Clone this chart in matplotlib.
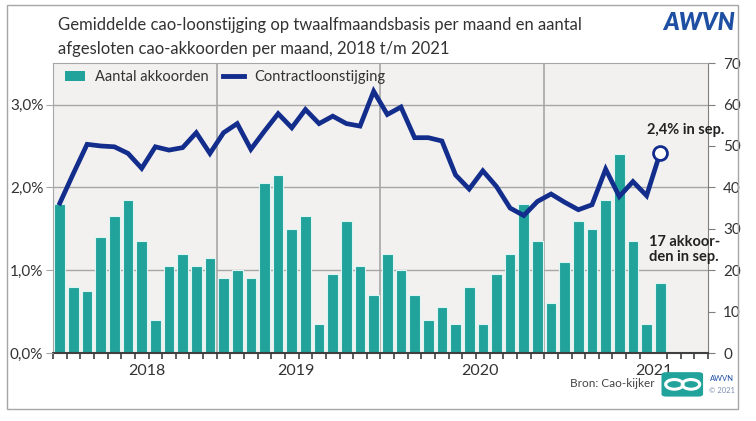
import matplotlib.pyplot as plt
import numpy as np
from matplotlib.lines import Line2D
from matplotlib.patches import Patch, Rectangle, FancyBboxPatch, Circle

#--------------- data -----------------------#
# months jan 2018 .. dec 2021 (48 slots), data up to sep 2021
akkoorden = [36, 16, 15, 28, 33, 37, 27, 8, 21, 24, 21, 23,
             18, 20, 18, 41, 43, 30, 33, 7, 19, 32, 21, 14,
             24, 20, 14, 8, 11, 7, 16, 7, 19, 24, 36, 27,
             12, 22, 32, 30, 37, 48, 27, 7, 17]
loonstijging = [1.81, 2.17, 2.52, 2.50, 2.49, 2.41, 2.23, 2.49, 2.45, 2.48, 2.66, 2.41,
                2.66, 2.77, 2.46, 2.68, 2.89, 2.72, 2.94, 2.77, 2.86, 2.77, 2.74, 3.16,
                2.88, 2.97, 2.60, 2.60, 2.56, 2.15, 1.98, 2.20, 2.01, 1.75, 1.66, 1.83,
                1.92, 1.82, 1.73, 1.79, 2.22, 1.89, 2.07, 1.90, 2.42]
n_slots = 48
jaren = ['2018', '2019', '2020', '2021']
jaar_pos = [6.4, 17.3, 30.8, 43.5]
jaar_grens = [11.5, 23.5, 35.5]

teal = '#21A29B'
navy = '#132D8C'
grijs = '#A6A6A6'
plt.rcParams['font.family'] = ['Lato', 'DejaVu Sans']

#--------------- plot -----------------#
fig = plt.figure(figsize=(7.56, 4.21), dpi=100)
ax = fig.add_axes([0.0701, 0.1615, 0.8664, 0.6885])
ax2 = ax.twinx()
ax.set_facecolor('#F2F1EF')

x = np.arange(len(akkoorden))
ax.bar(x, akkoorden, width=0.78, color=teal, edgecolor='#DDF6F4', linewidth=0.8, zorder=2)
for v in (20, 40, 60):
    ax.axhline(v, color=grijs, lw=1, zorder=1)
for g in jaar_grens:
    ax.axvline(g, color=grijs, lw=1.2, zorder=1)

ax.set_xlim(-0.5, n_slots - 0.5)
ax.set_ylim(0, 70)
ax.yaxis.tick_right()
ax.set_yticks(range(0, 71, 10))
ax.tick_params(axis='y', direction='out', length=5, color='#7F7F7F', labelsize=11, labelcolor='#333333', pad=6)
ax.set_xticks(jaar_pos)
ax.set_xticklabels(jaren, fontsize=11.5, color='#333333')
ax.set_xticks(np.arange(-0.5, n_slots, 1), minor=True)
ax.tick_params(axis='x', which='major', length=0, pad=8)
ax.tick_params(axis='x', which='minor', direction='out', length=4, width=1.2, color='#404040')
for s in ('top', 'left'):
    ax.spines[s].set_color(grijs)
ax.spines['right'].set_color('#7F7F7F')
ax.spines['bottom'].set_color('#404040')
ax.spines['bottom'].set_linewidth(1.5)
ax.spines['bottom'].set_zorder(5)

ax2.plot(x, loonstijging, color=navy, lw=3.4, solid_joinstyle='miter', zorder=3)
ax2.plot(x[-1], loonstijging[-1], 'o', ms=10, mfc='white', mec=navy, mew=2, zorder=4)
ax2.set_ylim(0, 3.5)
ax2.yaxis.tick_left()
ax2.set_yticks([0, 1, 2, 3])
ax2.set_yticklabels(['0,0%', '1,0%', '2,0%', '3,0%'])
ax2.tick_params(axis='y', direction='out', length=5, color=grijs, labelsize=11, labelcolor='#333333', pad=2)
for s in ax2.spines.values():
    s.set_visible(False)

ax2.annotate('2,4% in sep.', xy=(x[-1], loonstijging[-1]), xytext=(18, 16), textcoords='offset points',
             ha='center', va='center', fontsize=10.5, fontweight='bold', color='#222222')
ax.annotate('17 akkoor-\nden in sep.', xy=(x[-1], akkoorden[-1]), xytext=(-8, 24), textcoords='offset points',
            ha='left', va='center', fontsize=10.5, fontweight='bold', color='#222222', linespacing=1.1)

handles = [Patch(facecolor=teal, edgecolor='none'),
           Line2D([], [], color=navy, lw=3.5)]
ax2.legend(handles, ['Aantal akkoorden', 'Contractloonstijging'], loc='upper left',
           bbox_to_anchor=(0.0, 1.015), ncol=2, frameon=False, fontsize=10.5,
           handlelength=1.4, handleheight=0.7, handletextpad=0.7, columnspacing=1.0,
           borderaxespad=0.4, labelcolor='#333333')

# titel en opmaak
fig.text(0.077, 0.912, 'Gemiddelde cao-loonstijging op twaalfmaandsbasis per maand en aantal\n'
         'afgesloten cao-akkoorden per maand, 2018 t/m 2021', ha='left', va='center',
         fontsize=12, color='#333333', linespacing=1.6)
fig.text(0.972, 0.947, 'AWVN', ha='right', va='center', fontsize=17, fontweight='heavy',
         fontstyle='italic', color='#1E4FA3')
fig.patches.append(Rectangle((0.0093, 0.0285), 0.967, 0.9596, transform=fig.transFigure,
                             fill=False, edgecolor=grijs, lw=1))
fig.text(0.866, 0.088, 'Bron: Cao-kijker', ha='right', va='center', fontsize=8.5, color='#444444')
fig.patches.append(FancyBboxPatch((0.875, 0.058), 0.055, 0.058, boxstyle='round,pad=0,rounding_size=0.006',
                                  transform=fig.transFigure, facecolor=teal, edgecolor='none'))
for cx in (0.892, 0.914):
    fig.patches.append(Circle((cx, 0.087), 0.0115, transform=fig.transFigure,
                              fill=False, edgecolor='white', lw=2.2))
fig.text(0.955, 0.1, 'AWVN', ha='center', va='center', fontsize=5.5, color='#1E4FA3')
fig.text(0.955, 0.072, '© 2021', ha='center', va='center', fontsize=5.5, color='#7F8FB0')

fig.savefig('out.png', dpi=100)
